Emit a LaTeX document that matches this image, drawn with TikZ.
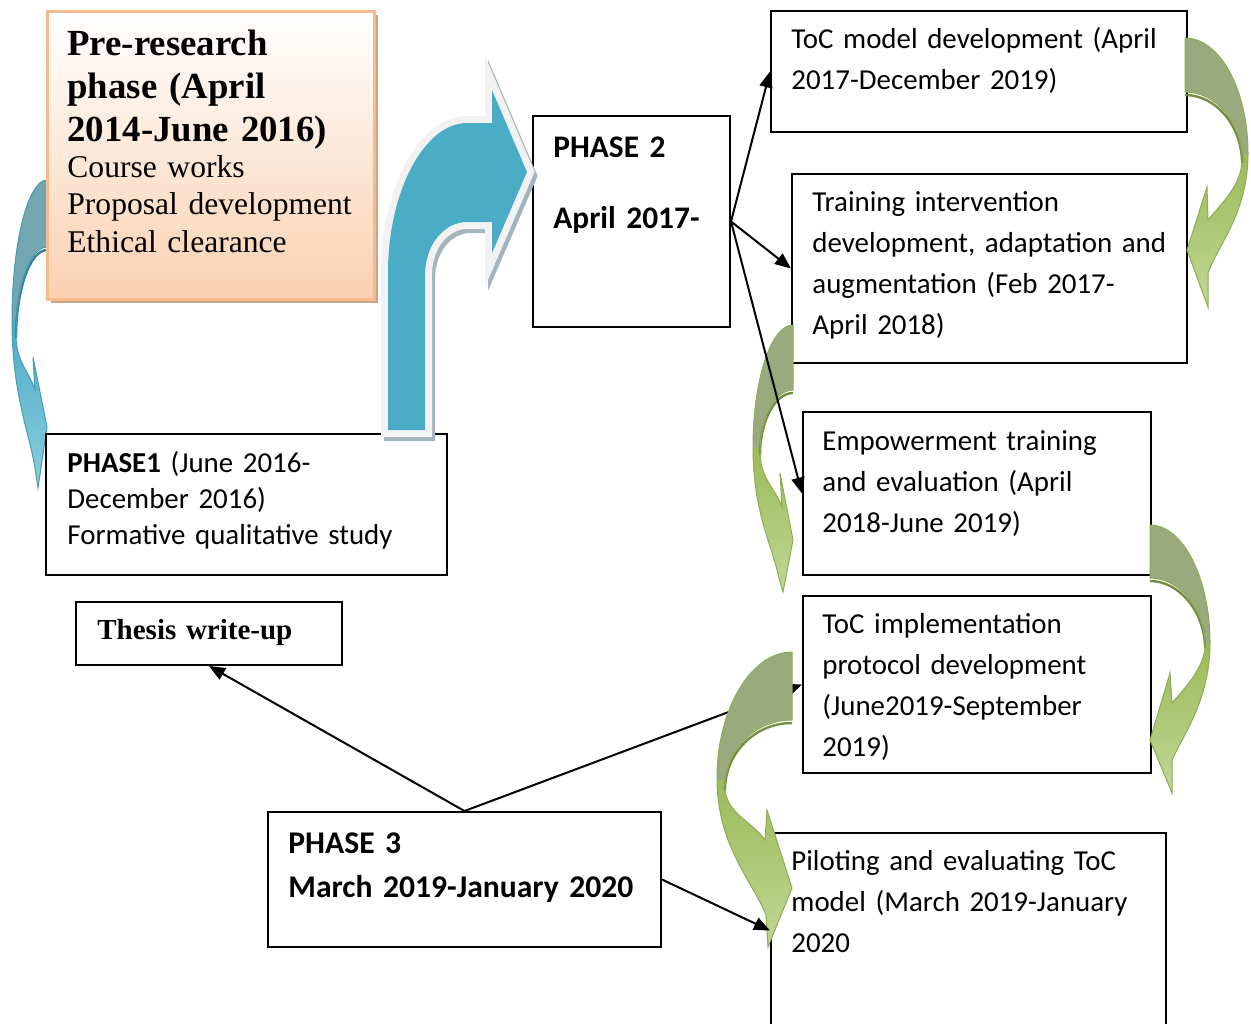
\documentclass[tikz,border=0pt]{standalone}
\usepackage{fontspec}
\setmainfont{Carlito}
\newfontfamily\serifface{Liberation Serif}
\usetikzlibrary{arrows.meta}

\definecolor{peach}{HTML}{FAD1B1}
\definecolor{peachedge}{HTML}{F5BB8D}
\definecolor{peachshadow}{HTML}{C9A689}
\definecolor{aqua}{HTML}{4BACC6}
\definecolor{aquaback}{HTML}{71A6B2}
\definecolor{aqualight}{HTML}{8DCDDE}
\definecolor{aquarim}{HTML}{F2F2F2}
\definecolor{aquashadow}{HTML}{A2B4BC}
\definecolor{leaf}{HTML}{9BBB59}
\definecolor{leafback}{HTML}{9BAA7E}
\definecolor{leaflight}{HTML}{C0D797}

% curved ribbon arrow: #1 outline, #2 y where the back face ends, #3 inner edge of the back face,
% #4 front colour, #5 light front colour, #6 back colour, #7 lowest y of the arrow
\newcommand\ribbonarrow[7]{%
  \begin{scope}
    \clip #1;
    \shade[top color=#4, bottom color=#5] (0,#2) rectangle (1251,#7);
    \fill[#6] (0,0) rectangle (1251,#2);
  \end{scope}
  \draw[#4!75!black, line width=1.2pt, yshift=-1.5pt] #3;
  \draw[#4!92!black, line width=0.5pt] #1;
}

\begin{document}
\begin{tikzpicture}[x=0.5pt, y=-0.5pt,
  box/.style={draw=black, line width=1pt, anchor=north west, inner sep=0pt, fill=white},
  txt/.style={anchor=base west, inner sep=0pt, align=left, text width=300pt},
  body/.style={font=\fontsize{14.45pt}{20.5pt}\selectfont},
  conn/.style={line width=1pt, -{Triangle[length=8pt, width=6.5pt]}},
]
\clip (0,0) rectangle (1251,1023);
\fill[white] (0,0) rectangle (1251,1023);

% small blue arrow from the pre-research phase down to phase 1
\ribbonarrow{(47,180) .. controls (28,180) and (12,243) .. (12,320) .. controls (12,394) and (29,431) .. (35,468) -- (38,488) -- (47,427) -- (33,357) -- (35,390) .. controls (29,371) and (16,362) .. (16,335) .. controls (16,287) and (30,247) .. (47,247) -- cycle}{320}{(16,335) .. controls (16,287) and (30,247) .. (47,247)}{aqua}{aqualight}{aquaback}{490}

% pre-research box
\fill[peachshadow] (51,15) rectangle (378,303);
\node[box, draw=peachedge, line width=1.5pt, top color=white, bottom color=peach,
      minimum width=163.5pt, minimum height=144pt] (pre) at (46,10) {};
\node[txt, font=\serifface\bfseries\fontsize{18.4pt}{21.5pt}\selectfont] (pretitle) at (67,55)
  {Pre-research\\phase (April\\2014-June 2016)};
\node[txt, font=\serifface\fontsize{15.8pt}{18.75pt}\selectfont] (prelist) at (67,177)
  {Course works\\Proposal development\\Ethical clearance};

% phase boxes
\node[box, minimum width=200.5pt, minimum height=70.5pt] (p1) at (45,433) {};
\node[txt, font=\fontsize{14.45pt}{18pt}\selectfont] (p1t) at (67,472)
  {\textbf{PHASE1} (June 2016-\\December 2016)\\Formative qualitative study};

\node[box, minimum width=133pt, minimum height=31.5pt] (thesis) at (75,601) {};
\node[txt, font=\serifface\bfseries\fontsize{14.5pt}{18pt}\selectfont] (thesist) at (97,639) {Thesis write-up};

\node[box, minimum width=196.5pt, minimum height=67.5pt] (p3) at (267,811) {};
\node[txt, font=\bfseries\fontsize{15.8pt}{22pt}\selectfont] (p3t) at (288,853)
  {PHASE 3\\March 2019-January 2020};

\node[box, minimum width=98.5pt, minimum height=105.5pt] (p2) at (532,115) {};
\node[txt, font=\bfseries\fontsize{15.7pt}{35.5pt}\selectfont] (p2t) at (553,157)
  {PHASE 2\\April 2017-};

% activity boxes
\node[box, minimum width=208pt, minimum height=60.5pt] (toc) at (770,10) {};
\node[txt, body] (toct) at (791,48) {ToC model development (April\\2017-December 2019)};

\node[box, minimum width=197.5pt, minimum height=94.5pt] (train) at (791,173) {};
\node[txt, body] (traint) at (812,211)
  {Training intervention\\development, adaptation and\\augmentation (Feb 2017-\\April 2018)};

\node[box, minimum width=174pt, minimum height=81.5pt] (emp) at (802,411) {};
\node[txt, body] (empt) at (822,450)
  {Empowerment training\\and evaluation (April\\2018-June 2019)};

\node[box, minimum width=174pt, minimum height=88.5pt] (impl) at (802,595) {};
\node[txt, body] (implt) at (822,633)
  {ToC implementation\\protocol development\\(June2019-September\\2019)};

\node[box, minimum width=197.5pt, minimum height=97.5pt] (pilot) at (770,832) {};
\node[txt, body] (pilott) at (791,870)
  {Piloting and evaluating ToC\\model (March 2019-January\\2020};

% connectors out of phase 2 and phase 3
\draw[conn] (p2.east) -- (toc.west);
\draw[conn] (p2.east) -- (train.west);
\draw[conn] (p3.north) -- (thesis.south);

% green arrows linking the activities
\ribbonarrow{(1185,38) .. controls (1220,38) and (1248,90) .. (1248,153) .. controls (1248,213) and (1218,245) .. (1208,273) -- (1208,307) -- (1187,250) -- (1207,187) -- (1208,220) .. controls (1220,205) and (1242,185) .. (1242,160) .. controls (1242,123) and (1216,92) .. (1185,92) -- cycle}{155}{(1242,160) .. controls (1242,123) and (1216,92) .. (1185,92)}{leaf}{leaflight}{leafback}{308}

\ribbonarrow{(793,325) .. controls (771,325) and (753,380) .. (753,447) .. controls (753,512) and (772,545) .. (779,578) -- (783,592) -- (793,540) -- (780,473) -- (782,507) .. controls (775,488) and (760,478) .. (760,452) .. controls (760,418) and (775,390) .. (793,390) -- cycle}{448}{(760,452) .. controls (760,418) and (775,390) .. (793,390)}{leaf}{leaflight}{leafback}{593}

\ribbonarrow{(1150,525) .. controls (1183,525) and (1210,578) .. (1210,643) .. controls (1210,700) and (1183,735) .. (1172,760) -- (1172,793) -- (1150,740) -- (1170,673) -- (1172,703) .. controls (1183,690) and (1205,668) .. (1205,645) .. controls (1205,610) and (1180,578) .. (1150,578) -- cycle}{644}{(1205,645) .. controls (1205,610) and (1180,578) .. (1150,578)}{leaf}{leaflight}{leafback}{794}

\draw[conn] (p2.east) -- (emp.west);
\draw[conn] (p3.north) -- (impl.west);

\ribbonarrow{(792,652) .. controls (751,652) and (717,709) .. (717,778) .. controls (717,846) and (752,880) .. (766,915) -- (768,947) -- (792,888) -- (767,810) -- (765,840) .. controls (752,821) and (725,813) .. (725,787) .. controls (725,750) and (755,720) .. (792,720) -- cycle}{780}{(725,787) .. controls (725,750) and (755,720) .. (792,720)}{leaf}{leaflight}{leafback}{948}

\draw[conn] (p3.east) -- (pilot.west);

% large bent arrow from phase 1 up to phase 2
\def\bentpath{(388,430) -- (388,273) .. controls (388,190) and (425,123) .. (467,123) -- (492,123) -- (492,90) -- (527,172) -- (492,253) -- (492,222) -- (467,222) .. controls (444,222) and (425,245) .. (425,275) -- (425,430) -- cycle}
\begin{scope}[shift={(3,4)}]
  \filldraw[aquashadow, line width=7pt] \bentpath;
\end{scope}
\filldraw[aquarim, line width=7pt] \bentpath;
\fill[aqua] \bentpath;
\end{tikzpicture}
\end{document}
